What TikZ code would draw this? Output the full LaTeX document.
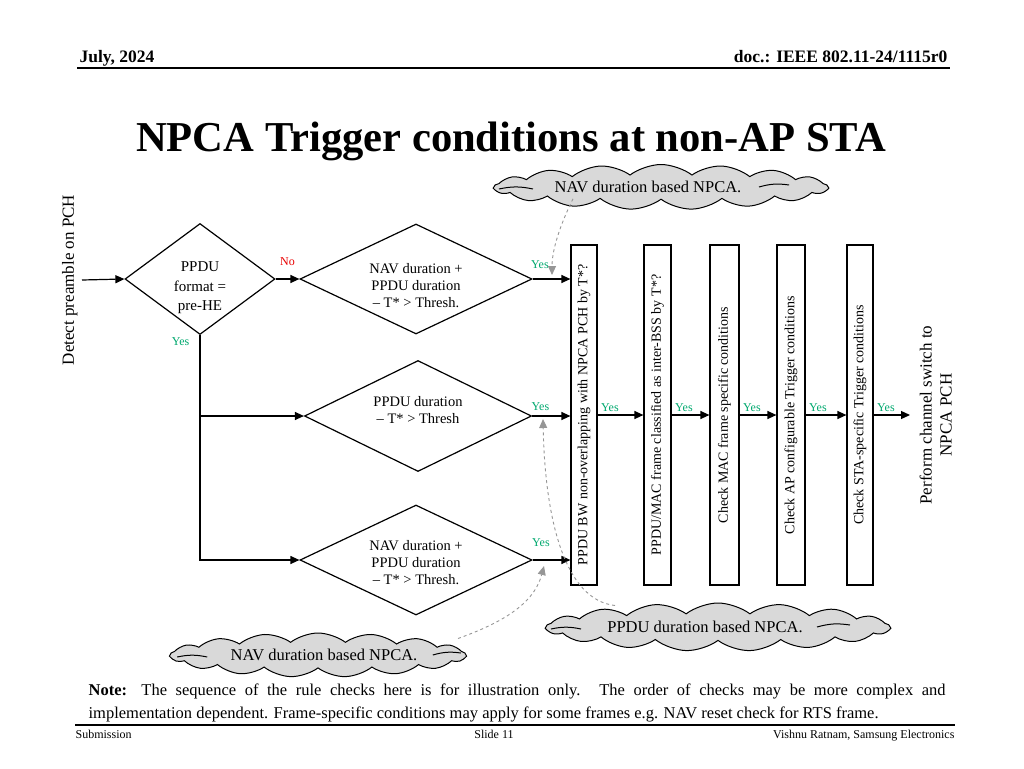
\documentclass[tikz,border=0pt]{standalone}
\usepackage{fontspec}
\setmainfont{Liberation Serif}
\usetikzlibrary{arrows.meta, shapes.geometric, shapes.symbols}
\newcommand{\fsz}[2]{\fontsize{#1}{#2}\selectfont}
% diamond text: centred lines, moved by #1, taking no height
\newcommand{\dlines}[2]{\raisebox{#1}[0pt][0pt]{\begin{tabular}{@{}c@{}}#2\end{tabular}}}
\definecolor{yesgreen}{RGB}{0,168,110}
\definecolor{nored}{RGB}{232,0,0}
\definecolor{cloudgray}{RGB}{217,217,217}
\definecolor{hintgray}{RGB}{150,150,150}

\begin{document}
\begin{tikzpicture}[
    x=1pt, y=-1pt, >={Triangle[length=9pt,width=8pt]},
    line width=1.2pt,
    decision/.style={draw, diamond, inner sep=0pt, font=\fsz{14.5}{17}},
    checkbox/.style={draw, rotate=90, minimum width=340pt, inner sep=0pt,
                     font=\fsz{14}{16}},
    yeslabel/.style={text=yesgreen, font=\fsz{12}{14}, inner sep=1pt,
                     pos=0, anchor=south west},
    nolabel/.style={text=nored, font=\fsz{12}{14}, inner sep=1pt,
                    pos=0, anchor=south west},
    cloudnote/.style={draw, cloud, cloud puffs=17, cloud puff arc=75,
                      cloud ignores aspect, fill=cloudgray, inner sep=0pt,
                      line width=1pt, font=\fsz{16.5}{19}},
    flick/.style={line width=1pt},
    hintarrow/.style={->, draw=hintgray, dashed, line width=0.9pt}
  ]
  \useasboundingbox (0,0) rectangle (1024,768);

  % header and title
  \node[anchor=base west, inner sep=0pt, font=\bfseries\fsz{17.5}{20}] (date) at (79,63) {July, 2024};
  \node[anchor=base east, inner sep=0pt, font=\bfseries\fsz{17.5}{20}] (doc) at (948,63) {doc.: IEEE 802.11-24/1115r0};
  \draw[line width=2pt] (77,68) -- (950,68);
  \node[anchor=base, inner sep=0pt, font=\bfseries\fsz{42.6}{48}] (title) at (511,151) {NPCA Trigger conditions at non-AP STA};

  % decisions
  \node[rotate=90, anchor=south, inner sep=4pt, font=\fsz{17}{20}] (det) at (82,280) {Detect preamble on PCH};
  \node[decision, minimum width=150pt, minimum height=111pt, font=\fsz{15}{19.5}] (d0) at (200,279) {\dlines{-11.7pt}{PPDU\\format =\\pre-HE}};
  \node[decision, minimum width=232pt, minimum height=110pt] (d1) at (416,279) {\dlines{-11.6pt}{NAV duration +\\PPDU duration\\– T* > Thresh.}};
  \node[decision, minimum width=227pt, minimum height=111pt] (d2) at (418,416) {\dlines{0.9pt}{PPDU duration\\– T* > Thresh}};
  \node[decision, minimum width=232pt, minimum height=110pt] (d3) at (416,560) {\dlines{-7.6pt}{NAV duration +\\PPDU duration\\– T* > Thresh.}};

  % checks
  \node[checkbox, minimum height=26pt] (c1) at (584,415) {PPDU BW non-overlapping with NPCA PCH by T*?};
  \node[checkbox, minimum height=27pt] (c2) at (657.5,415) {PPDU/MAC frame classified as inter-BSS by T*?};
  \node[checkbox, minimum height=29pt] (c3) at (724.5,415) {Check MAC frame specific conditions};
  \node[checkbox, minimum height=28pt] (c4) at (791,415) {Check AP configurable Trigger conditions};
  \node[checkbox, minimum height=26pt] (c5) at (860,415) {Check STA-specific Trigger conditions};
  \node[rotate=90, anchor=north, inner sep=9pt, align=center, font=\fsz{17}{20}] (sw) at (910,415) {Perform channel switch to\\NPCA PCH};

  % flow
  \draw[->] (det.south) -- (d0.west);
  \draw[->] (d0.east) -- node[nolabel, xshift=3pt, yshift=12pt] {No} (d1.west);
  \draw[->] (d0.south) |- node[yeslabel, anchor=north east, xshift=-9pt, yshift=-1pt] {Yes} (d2.west);
  \draw[->] (d0.south) |- (d3.west);
  \draw[->] (d1.east) -- node[yeslabel, xshift=-3pt, yshift=9pt] {Yes} (d1.east -| c1.north);
  \draw[->] (d2.east) -- node[yeslabel, xshift=-2pt, yshift=4pt] {Yes} (d2.east -| c1.north);
  \draw[->] (d3.east) -- node[yeslabel, xshift=-2pt, yshift=12pt] {Yes} (d3.east -| c1.north);
  \foreach \a/\b in {c1/c2, c2/c3, c3/c4, c4/c5, c5/sw}
    \draw[->] (\a.south) -- node[yeslabel, xshift=2pt, yshift=2pt] {Yes} (\b.north);

  % notes
  \node[cloudnote, minimum width=333pt, minimum height=45pt] (cl1) at (661,187) {NAV duration based NPCA.\hspace*{26pt}};
  \node[cloudnote, minimum width=343pt, minimum height=48pt] (cl2) at (718,627) {PPDU duration based NPCA.\hspace*{26pt}};
  \node[cloudnote, minimum width=295pt, minimum height=44pt] (cl3) at (318,655) {\hspace*{12pt}NAV duration based NPCA.};
  \draw[flick] ([xshift=6pt, yshift=-2pt]cl1.west) to[bend left=12] ++(34,0);
  \draw[flick] ([xshift=-70pt]cl1.east) to[bend left=12] ++(30,-2);
  \draw[flick] ([xshift=6pt, yshift=-2pt]cl2.west) to[bend left=12] ++(30,0);
  \draw[flick] ([xshift=-74pt]cl2.east) to[bend left=12] ++(33,-2);
  \draw[flick] ([xshift=8pt, yshift=-2pt]cl3.west) to[bend left=12] ++(30,0);
  \draw[flick] ([xshift=-34pt]cl3.east) to[bend left=12] ++(28,-2);

  \coordinate (t1) at (552,275);
  \coordinate (t2) at (543,419);
  \coordinate (t3) at (544,566);
  \draw[hintarrow] ([xshift=-88pt, yshift=1pt]cl1.south) .. controls (560,225) and (552,250) .. (t1);
  \draw[hintarrow] ([xshift=-103pt, yshift=-3pt]cl2.north) .. controls (565,600) and (545,520) .. (t2);
  \draw[hintarrow] ([xshift=140pt, yshift=-6pt]cl3.north) .. controls (510,620) and (535,600) .. (t3);

  % footer
  \node[anchor=base west, inner sep=0pt, font=\fsz{16.5}{22}] (note1) at (88,695)
    {\makebox[857pt][s]{\textbf{Note:} The sequence of the rule checks here is for illustration only. The order of checks may be more complex and}};
  \node[anchor=base west, inner sep=0pt, font=\fsz{16.5}{22}] (note2) at (88,718)
    {implementation dependent. Frame-specific conditions may apply for some frames e.g. NAV reset check for RTS frame.};
  \draw[line width=2pt] (75,725) -- (955,725);
  \node[anchor=base west, inner sep=0pt, font=\fsz{12}{14}] (sub) at (75,738) {Submission};
  \node[anchor=base, inner sep=0pt, font=\fsz{12}{14}] (slide) at (494,738) {Slide 11};
  \node[anchor=base east, inner sep=0pt, font=\fsz{12}{14}] (auth) at (955,738) {Vishnu Ratnam, Samsung Electronics};
\end{tikzpicture}
\end{document}
